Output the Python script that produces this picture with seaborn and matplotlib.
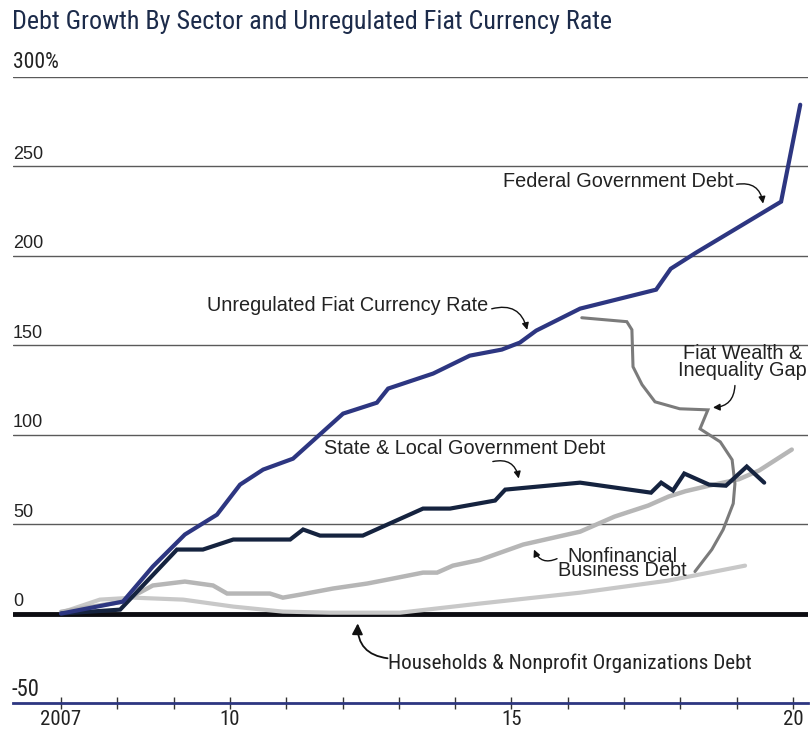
import matplotlib
matplotlib.use("Agg")
import matplotlib.pyplot as plt
from matplotlib import font_manager
from matplotlib.font_manager import FontProperties
import seaborn as sns
import pandas as pd

sns.set_theme(style="white")
REG = "Liberation Sans"
plt.rcParams["font.family"] = [REG, "DejaVu Sans"]


def pick_narrow():
    prefs = ["liberation sans narrow", "arial narrow", "roboto condensed", "open sans condensed",
             "noto sans condensed", "dejavu sans condensed", "condensed", "narrow"]
    cands = []
    for f in font_manager.fontManager.ttflist:
        key = (f.name + " " + f.fname).lower().replace("-", " ").replace("_", " ")
        stretch = str(f.stretch)
        is_narrow = ("narrow" in key or "condensed" in key
                     or stretch in ("condensed", "semi-condensed", "extra-condensed"))
        if not is_narrow or f.style != "normal":
            continue
        if "bold" in key or "light" in key or "thin" in key or "black" in key or "medium" in key:
            continue
        if f.weight not in (400, "normal", "regular", "book"):
            continue
        rank = len(prefs)
        for i, p in enumerate(prefs):
            if p in key or p.replace(" ", "") in key.replace(" ", ""):
                rank = i
                break
        cands.append((rank, f.fname))
    if cands:
        cands.sort()
        return cands[0][1]
    return None


NARROW_FILE = pick_narrow()


def nfp(size):
    if NARROW_FILE:
        return FontProperties(fname=NARROW_FILE, size=size)
    return FontProperties(family=REG, size=size)


# ---- data ----
fed_x = [2007.0, 2008.10, 2008.63, 2009.20, 2009.77, 2010.18, 2010.59, 2011.12, 2012.01, 2012.61,
         2012.81, 2013.61, 2014.26, 2014.83, 2015.15, 2015.44, 2016.22, 2017.57, 2017.83, 2018.28,
         2019.79, 2020.13]
fed_y = [0, 6.7, 26.3, 44.2, 55.3, 72.1, 80.5, 86.6, 111.8, 117.9,
         125.8, 134.2, 144.2, 147.6, 151.5, 158.2, 170.5, 181.1, 192.8, 201.8,
         230.3, 284.5]

sl_x = [2007.0, 2008.05, 2009.06, 2009.52, 2010.06, 2011.07, 2011.30, 2011.60, 2012.36, 2013.43,
        2013.91, 2014.71, 2014.89, 2016.22, 2017.48, 2017.66, 2017.87, 2018.07, 2018.51, 2018.81,
        2019.18, 2019.49]
sl_y = [0, 2.2, 35.8, 35.8, 41.4, 41.4, 47.0, 43.6, 43.6, 58.7,
        58.7, 63.2, 69.3, 73.2, 67.6, 73.2, 68.8, 78.3, 72.1, 71.5,
        82.2, 73.2]

nf_x = [2007.0, 2008.10, 2008.63, 2009.20, 2009.70, 2009.95, 2010.71, 2010.94, 2011.25, 2011.83,
        2012.44, 2012.90, 2013.43, 2013.68, 2013.96, 2014.44, 2015.21, 2016.22, 2016.83, 2017.43,
        2017.79, 2018.09, 2018.51, 2019.04, 2019.40, 2019.98]
nf_y = [1.0, 6.7, 15.7, 17.9, 15.7, 11.2, 11.2, 8.9, 10.6, 14.0,
        16.8, 19.6, 22.9, 22.9, 26.8, 30.0, 38.6, 45.8, 54.2, 60.4,
        65.4, 68.4, 71.5, 75.1, 80.0, 91.7]

hh_x = [2007.0, 2007.69, 2008.28, 2009.17, 2010.06, 2010.94, 2011.78, 2013.02, 2014.44, 2016.22,
        2017.78, 2019.15]
hh_y = [0.5, 7.8, 8.9, 7.8, 3.9, 1.1, 0.5, 0.5, 5.6, 11.7,
        18.4, 26.8]

gap_x = [2016.25, 2017.05, 2017.14, 2017.16, 2017.32, 2017.55, 2017.99, 2018.49, 2018.35, 2018.71,
         2018.92, 2018.97, 2018.94, 2018.76, 2018.56, 2018.26]
gap_y = [165.4, 163.2, 158.7, 138.0, 128.0, 118.4, 114.5, 113.9, 103.3, 96.0,
         86.0, 72.6, 61.5, 46.9, 35.8, 23.5]

y_grid = [50, 100, 150, 200, 250, 300]
y_labels = ["50", "100", "150", "200", "250", "300%"]
x_ticks = list(range(2007, 2021))
x_labels = {2007: "2007", 2010: "10", 2015: "15", 2020: "20"}

# ---- figure ----
W, H = 812, 731
fig = plt.figure(figsize=(W / 100, H / 100), dpi=100)
ax = fig.add_axes([13 / W, 28 / H, 795 / W, 626 / H])
renderer = fig.canvas.get_renderer()


def fit_width(t, target_px):
    bb = t.get_window_extent(renderer)
    if bb.width > 0:
        t.set_fontsize(t.get_fontsize() * target_px / bb.width)


navy = "#2d3681"
dark = "#15233f"

series = [
    (hh_x, hh_y, "#c8c8c8", 3.0),
    (nf_x, nf_y, "#b6b6b6", 3.2),
    (gap_x, gap_y, "#7b7b7b", 2.2),
    (sl_x, sl_y, dark, 3.0),
    (fed_x, fed_y, navy, 3.0),
]
for xs, ys, col, lw in series:
    df = pd.DataFrame({"x": xs, "y": ys})
    sns.lineplot(data=df, x="x", y="y", sort=False, estimator=None, color=col,
                 linewidth=lw, ax=ax, solid_joinstyle="miter")

ax.set_xlim(2006.147, 2020.268)
ax.set_ylim(-50, 300)
ax.set_xlabel("")
ax.set_ylabel("")

for v in y_grid:
    ax.axhline(v, color="#5a5a5a", lw=1.0, zorder=0)
ax.axhline(0, color="#0d0d12", lw=3.5, zorder=1)
ax.set_yticks([])

for s in ["top", "left", "right"]:
    ax.spines[s].set_visible(False)
ax.spines["bottom"].set_color(navy)
ax.spines["bottom"].set_linewidth(2.0)

ax.set_xticks(x_ticks)
ax.set_xticklabels([x_labels.get(t, "") for t in x_ticks], color="#222222")
for lab in ax.get_xticklabels():
    lab.set_fontproperties(nfp(15))
ax.tick_params(axis="x", direction="inout", length=8, width=1.0, color="#333333", pad=1,
               bottom=True)

tc = "#222222"
# y labels inside plot
for v, lab in zip(y_grid, y_labels):
    if lab == "300%":
        t = ax.text(0.0, v + 2, lab, transform=ax.get_yaxis_transform(), ha="left", va="bottom",
                    color=tc, fontproperties=nfp(15))
        fit_width(t, 46)
    else:
        ax.text(0.0, v + 2, lab, transform=ax.get_yaxis_transform(), ha="left", va="bottom",
                fontsize=13, color=tc, fontfamily=REG)
ax.text(0.0, 2, "0", transform=ax.get_yaxis_transform(), ha="left", va="bottom",
        fontsize=13, color=tc, fontfamily=REG)
t = ax.text(-0.002, -49, "-50", transform=ax.get_yaxis_transform(), ha="left", va="bottom",
            color=tc, fontproperties=nfp(18))
fit_width(t, 28)

# title
t = fig.text(12 / W, 1 - 22 / H, "Debt Growth By Sector and Unregulated Fiat Currency Rate",
             ha="left", va="center", color="#1c2b4a", fontproperties=nfp(18))
fit_width(t, 600)

arrow = dict(arrowstyle="-|>", color="#111111", lw=1.0, mutation_scale=10,
             shrinkA=0, shrinkB=0)
FS = 14.3

ax.text(2018.94, 241.5, "Federal Government Debt", ha="right", va="center", fontsize=FS, color=tc)
ax.annotate("", xy=(2019.47, 229.2), xytext=(2019.0, 240.0),
            arrowprops=dict(arrow, connectionstyle="arc3,rad=-0.5"))

ax.text(2014.58, 172.5, "Unregulated Fiat Currency Rate", ha="right", va="center",
        fontsize=FS, color=tc)
ax.annotate("", xy=(2015.28, 158.6), xytext=(2014.65, 170.4),
            arrowprops=dict(arrow, connectionstyle="arc3,rad=-0.5"))

t = ax.text(2019.10, 140.5, "Fiat Wealth &\nInequality Gap", ha="center", va="center",
            fontsize=FS, color=tc, linespacing=0.85)
ax.annotate("", xy=(2018.58, 115.2), xytext=(2018.97, 127.5),
            arrowprops=dict(arrow, connectionstyle="arc3,rad=-0.45"))

ax.text(2014.17, 92.5, "State & Local Government Debt", ha="center", va="center",
        fontsize=FS, color=tc)
ax.annotate("", xy=(2015.13, 75.5), xytext=(2014.67, 85.0),
            arrowprops=dict(arrow, connectionstyle="arc3,rad=-0.5"))

ax.text(2016.97, 28.0, "Nonfinancial\nBusiness Debt", ha="center", va="center",
        fontsize=FS, color=tc, linespacing=0.72)
ax.annotate("", xy=(2015.40, 35.8), xytext=(2015.81, 30.7),
            arrowprops=dict(arrow, connectionstyle="arc3,rad=-0.5"))

t = ax.text(2012.81, -27.5, "Households & Nonprofit Organizations Debt", ha="left", va="center",
            color=tc, fontproperties=nfp(16))
fit_width(t, 364)
ax.annotate("", xy=(2012.27, -5.5), xytext=(2012.8, -25.0),
            arrowprops=dict(arrowstyle="-|>", color="#111111", lw=1.3, mutation_scale=16,
                            shrinkA=0, shrinkB=0, connectionstyle="arc3,rad=-0.45"))

fig.savefig("out.png", dpi=100)
